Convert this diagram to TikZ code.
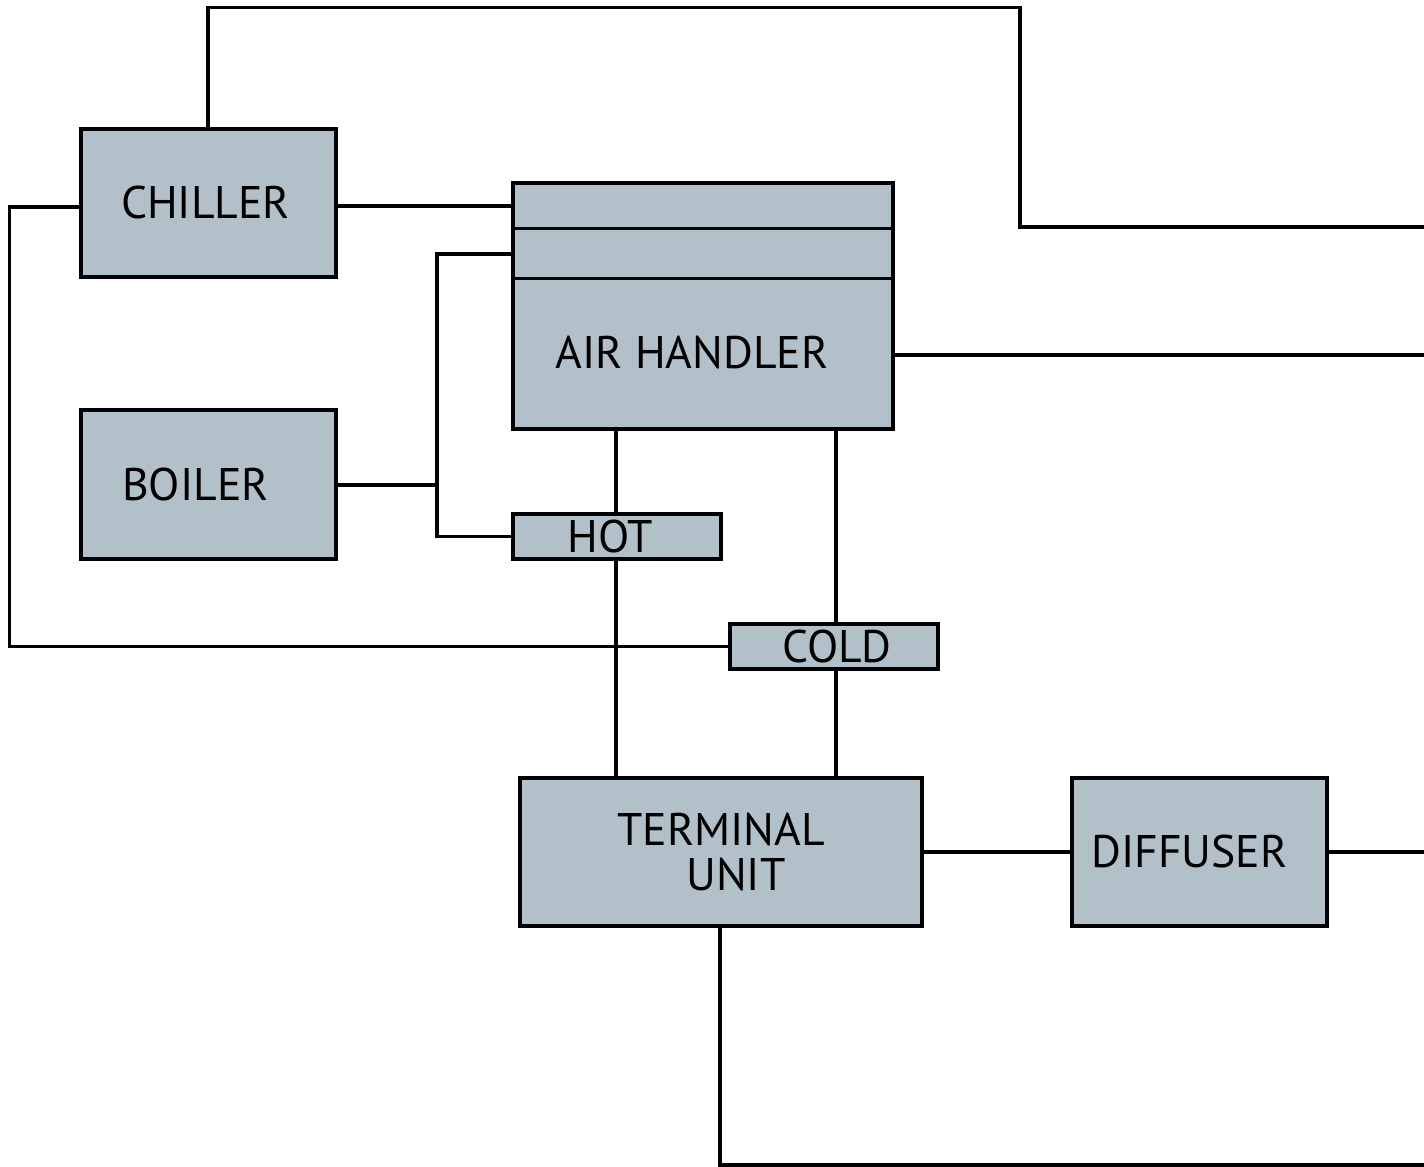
\documentclass[tikz,border=0pt]{standalone}
\usepackage{fontspec}
\setmainfont{PT Sans}
\usetikzlibrary{positioning, calc}
\definecolor{unitgray}{HTML}{B2C0C9}
\begin{document}
\begin{tikzpicture}[
      blk/.style={draw, fill=unitgray, line width=1.3pt, inner sep=0pt,
                  font=\fontsize{13}{12.8}\selectfont, align=center},
      pipe/.style={line width=1pt},
      lbl/.style={font=\fontsize{13}{12.8}\selectfont, inner sep=0pt}]

    \useasboundingbox (0,0) rectangle (14.24,-11.67);

    % ---- Plant ----
    \node[blk, minimum width=2.55cm, minimum height=1.48cm] (ch) at (2.085,-2.03) {CHILLER\hspace{0.06cm}};
    \node[blk, minimum width=2.55cm, minimum height=1.49cm] (bo) at (2.085,-4.845) {BOILER\hspace{0.26cm}};

    % ---- Air handler with two coil strips ----
    \node[blk, minimum width=3.80cm, minimum height=2.46cm] (ah) at (7.03,-3.06) {};
    \draw[pipe] ([yshift=-0.48cm]ah.north west) -- ([yshift=-0.48cm]ah.north east);
    \draw[pipe] ([yshift=-0.98cm]ah.north west) -- ([yshift=-0.98cm]ah.north east);
    \node[lbl] (ahtxt) at ([xshift=-0.11cm, yshift=0.79cm]ah.south) {AIR HANDLER};

    % ---- Decks ----
    \node[blk, minimum width=2.08cm, minimum height=0.45cm] (hot) at (6.17,-5.365) {HOT\hspace{0.14cm}};
    \node[blk, minimum width=2.08cm, minimum height=0.45cm] (cold) at (8.34,-6.465) {\hspace{0.06cm}COLD};

    % ---- Zone ----
    \node[blk, minimum width=4.02cm, minimum height=1.48cm] (tu) at (7.21,-8.52) {TERMINAL\\\hspace{0.3cm}UNIT};
    \node[blk, minimum width=2.55cm, minimum height=1.48cm] (df) at (11.995,-8.52) {DIFFUSER\hspace{0.2cm}};

    % ---- Free ends at the right edge ----
    \coordinate (topr) at (14.24,-2.27);
    \coordinate (ahr)  at (14.24,-3.55);
    \coordinate (dfr)  at (14.24,-8.52);
    \coordinate (botr) at (14.24,-11.65);

    % ---- Chiller loops ----
    \draw[pipe] ([xshift=-0.005cm]ch.north) -- ++(0,1.19) -| (10.20,-2.27) -- (topr);
    \draw[pipe] ([yshift=-0.03cm]ch.east) -- ([yshift=-0.03cm]ch.east -| ah.west);
    \draw[pipe] ([yshift=-0.04cm]ch.west) -- ++(-0.69,0) |- (cold.west);

    % ---- Boiler loop ----
    \coordinate (bj) at (4.37,-4.85);
    \draw[pipe] (bo.east |- bj) -- (bj);
    \draw[pipe] (4.37,-2.54 -| ah.west) -- (4.37,-2.54) -- (hot.west -| bj) -- (hot.west);

    % ---- Air handler supply ----
    \draw[pipe] (ahr -| ah.east) -- (ahr);
    \draw[pipe] (6.16,-4.31 |- ah.south) -- (6.16,-4.31 |- hot.north);
    \draw[pipe] (6.16,-4.31 |- hot.south) -- (6.16,-4.31 |- tu.north);
    \draw[pipe] (8.36,-4.31 |- ah.south) -- (8.36,-4.31 |- cold.north);
    \draw[pipe] (8.36,-4.31 |- cold.south) -- (8.36,-4.31 |- tu.north);

    % ---- Zone side ----
    \draw[pipe] (tu.east) -- (df.west);
    \draw[pipe] (df.east) -- (dfr);
    \draw[pipe] ([xshift=-0.01cm]tu.south) |- (botr);

\end{tikzpicture}
\end{document}
